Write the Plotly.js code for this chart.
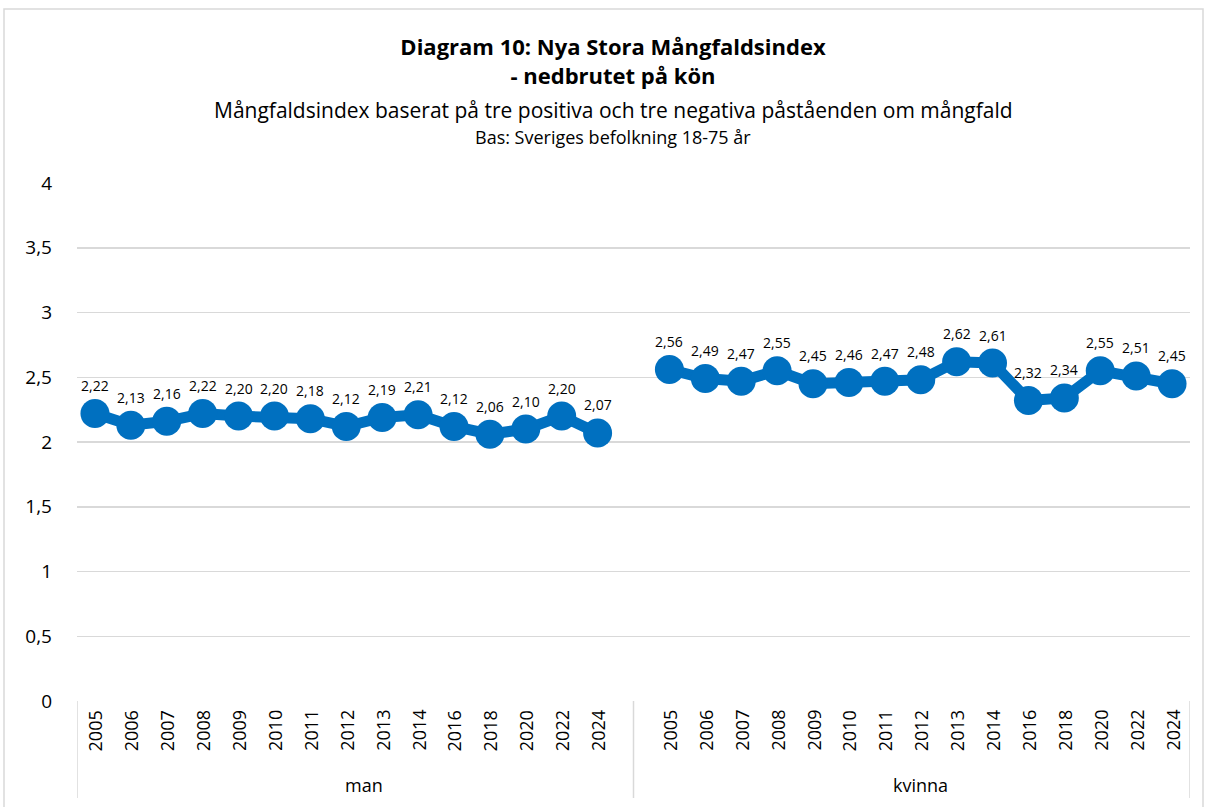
<!DOCTYPE html>
<html>
<head>
<meta charset="utf-8">
<script src="https://cdn.plot.ly/plotly-3.0.1.min.js"></script>
<style>html,body{margin:0;padding:0;background:#fff;}</style>
</head>
<body>
<div id="chart" style="width:1205px;height:807px;"></div>
<script>
const years = ['2005','2006','2007','2008','2009','2010','2011','2012','2013','2014','2016','2018','2020','2022','2024'];
const groups = ['man','kvinna'];
const manValues = [2.22, 2.13, 2.16, 2.22, 2.20, 2.20, 2.18, 2.12, 2.19, 2.21, 2.12, 2.06, 2.10, 2.20, 2.07];
const kvinnaValues = [2.56, 2.49, 2.47, 2.55, 2.45, 2.46, 2.47, 2.48, 2.62, 2.61, 2.32, 2.34, 2.55, 2.51, 2.45];
const yTicks = [0, 0.5, 1, 1.5, 2, 2.5, 3, 3.5, 4];

const BLUE = '#0070C0';
const FONT = 'Open Sans, Liberation Sans, sans-serif';
const n = years.length;
const xMan = years.map((_, i) => i);
const xKvinna = years.map((_, i) => i + n + 1);
const fmt = v => v.toFixed(2).replace('.', ',');

// plot geometry in px (for paper conversions)
const PLOT_TOP = 183, PLOT_BOTTOM = 701, PLOT_LEFT = 77, PLOT_RIGHT = 1190;
const PH = PLOT_BOTTOM - PLOT_TOP, PW = PLOT_RIGHT - PLOT_LEFT;
const py = p => (PLOT_BOTTOM - p) / PH;
const px = p => (p - PLOT_LEFT) / PW;

const traces = [
  {x: xMan, y: manValues, mode: 'lines+markers', line: {color: BLUE, width: 11},
   marker: {color: BLUE, size: 29}, hoverinfo: 'skip', showlegend: false},
  {x: xKvinna, y: kvinnaValues, mode: 'lines+markers', line: {color: BLUE, width: 11},
   marker: {color: BLUE, size: 29}, hoverinfo: 'skip', showlegend: false}
];

const annotations = [];
// data labels
[[xMan, manValues], [xKvinna, kvinnaValues]].forEach(([xs, vs]) => {
  xs.forEach((x, i) => {
    annotations.push({x: x, y: vs[i], xref: 'x', yref: 'y', text: fmt(vs[i]),
      showarrow: false, yshift: 28, font: {family: FONT, size: 14, color: '#000'}});
  });
});
// year labels
[xMan, xKvinna].forEach(xs => {
  xs.forEach((x, i) => {
    annotations.push({x: x, y: py(708), xref: 'x', yref: 'paper', text: years[i],
      textangle: -90, showarrow: false, xanchor: 'center', yanchor: 'top',
      font: {family: FONT, size: 18, color: '#000'}});
  });
});
// group labels
annotations.push({x: 7.5, y: py(785), xref: 'x', yref: 'paper', text: groups[0], showarrow: false,
  yanchor: 'middle', font: {family: FONT, size: 18, color: '#000'}});
annotations.push({x: 23, y: py(785), xref: 'x', yref: 'paper', text: groups[1], showarrow: false,
  yanchor: 'middle', font: {family: FONT, size: 18, color: '#000'}});
// subtitles
annotations.push({x: px(613), y: py(110), xref: 'paper', yref: 'paper',
  text: 'Mångfaldsindex baserat på tre positiva och tre negativa påståenden om mångfald',
  showarrow: false, xanchor: 'center', yanchor: 'middle', font: {family: FONT, size: 21, color: '#000'}});
annotations.push({x: px(613), y: py(137), xref: 'paper', yref: 'paper',
  text: 'Bas: Sveriges befolkning 18-75 år',
  showarrow: false, xanchor: 'center', yanchor: 'middle', font: {family: FONT, size: 18, color: '#000'}});

const GRID = '#d9d9d9';
const shapes = [];
[-0.5, n + 0.0, 2 * n + 0.5].forEach(x => {
  shapes.push({type: 'line', xref: 'x', yref: 'paper', x0: x, x1: x, y0: 0, y1: py(798),
    line: {color: GRID, width: 1.5}});
});
// outer chart border
shapes.push({type: 'rect', xref: 'paper', yref: 'paper', x0: px(4), x1: px(1203), y0: py(9), y1: py(830),
  line: {color: GRID, width: 1.5}, fillcolor: 'rgba(0,0,0,0)'});

const layout = {
  width: 1205, height: 807,
  margin: {l: PLOT_LEFT, r: 1205 - PLOT_RIGHT, t: PLOT_TOP, b: 807 - PLOT_BOTTOM, pad: 0},
  paper_bgcolor: '#fff', plot_bgcolor: '#fff',
  separators: ', ',
  title: {text: '<b>Diagram 10: Nya Stora Mångfaldsindex<br>- nedbrutet på kön</b>',
    x: 613/1205, xref: 'container', xanchor: 'center',
    y: 1 - 55/807, yref: 'container', yanchor: 'middle',
    font: {family: FONT, size: 22, color: '#000'}},
  xaxis: {range: [-0.5, 2 * n + 0.5], showticklabels: false, showgrid: false, zeroline: false,
    showline: false, ticks: '', fixedrange: true},
  yaxis: {range: [0, 4], tickvals: yTicks, tickformat: '.1~f', showgrid: true, gridcolor: GRID, gridwidth: 1.5,
    zeroline: false, showline: false, ticks: '', ticklabelstandoff: 24,
    tickfont: {family: FONT, size: 19, color: '#000'}, fixedrange: true},
  annotations: annotations,
  shapes: shapes,
  showlegend: false
};

Plotly.newPlot('chart', traces, layout, {displayModeBar: false, staticPlot: true});
</script>
</body>
</html>
